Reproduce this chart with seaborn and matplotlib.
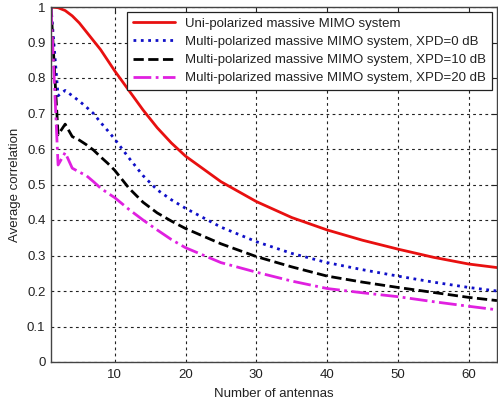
import matplotlib
matplotlib.use("Agg")
import matplotlib.pyplot as plt
import seaborn as sns
import pandas as pd
import numpy as np

antennas = [1, 2, 3, 4, 5, 6, 7, 8, 9, 10, 12, 14, 16, 18, 20, 25, 30, 35, 40, 45, 50, 55, 60, 64]
uni = [1.0, 0.998, 0.99, 0.975, 0.955, 0.93, 0.905, 0.88, 0.85, 0.82, 0.765, 0.71, 0.66, 0.617, 0.58,
       0.508, 0.452, 0.407, 0.372, 0.343, 0.318, 0.295, 0.276, 0.266]
xpd0 = [1.0, 0.75, 0.765, 0.75, 0.735, 0.718, 0.70, 0.675, 0.652, 0.628, 0.575, 0.525, 0.485, 0.457, 0.433,
        0.38, 0.339, 0.306, 0.28, 0.26, 0.242, 0.225, 0.21, 0.20]
xpd10 = [1.0, 0.64, 0.67, 0.635, 0.625, 0.612, 0.597, 0.578, 0.56, 0.54, 0.49, 0.45, 0.42, 0.397, 0.376,
         0.333, 0.297, 0.268, 0.242, 0.225, 0.21, 0.196, 0.182, 0.173]
xpd20 = [1.0, 0.555, 0.59, 0.546, 0.535, 0.525, 0.508, 0.49, 0.476, 0.463, 0.43, 0.40, 0.372, 0.345, 0.322,
         0.28, 0.253, 0.228, 0.207, 0.195, 0.184, 0.17, 0.157, 0.147]

labels = ["Uni-polarized massive MIMO system",
          "Multi-polarized massive MIMO system, XPD=0 dB",
          "Multi-polarized massive MIMO system, XPD=10 dB",
          "Multi-polarized massive MIMO system, XPD=20 dB"]
colors = ["#e81010", "#1010c8", "#000000", "#e020e0"]
styles = ["-", ":", "--", "-."]
series = [uni, xpd0, xpd10, xpd20]

xticks = [10, 20, 30, 40, 50, 60]
yticks = [0, 0.1, 0.2, 0.3, 0.4, 0.5, 0.6, 0.7, 0.8, 0.9, 1]
ytick_labels = ["0", "0.1", "0.2", "0.3", "0.4", "0.5", "0.6", "0.7", "0.8", "0.9", "1"]

sns.set_style("white")
plt.rcParams['font.family'] = ['Liberation Sans', 'DejaVu Sans']

fig = plt.figure(figsize=(4.98, 4.05), dpi=100)
ax = fig.add_axes([51/498, 1 - 362/405, 1 - 51/498 - 0.002, (362 - 7)/405])

for lab, vals, c, ls in zip(labels, series, colors, styles):
    df = pd.DataFrame({"Number of antennas": antennas, "Average correlation": vals})
    sns.lineplot(data=df, x="Number of antennas", y="Average correlation", ax=ax,
                 color=c, linestyle=ls, linewidth=2, label=lab)

ax.set_xlim(1, 64)
ax.set_ylim(0, 1)
ax.set_xticks(xticks)
ax.set_yticks(yticks)
ax.set_yticklabels(ytick_labels)
ax.grid(True, linestyle=(0, (2.5, 3)), color="#222222", linewidth=0.8)
ax.tick_params(direction="in", length=4, top=True, right=True, labelsize=9.5,
               colors="#222222", labelcolor="#222222", pad=4)
ax.tick_params(axis="x", pad=5)
for s in ax.spines.values():
    s.set_color("#444444")
    s.set_linewidth(1.0)
ax.set_xlabel("Number of antennas", fontsize=9.5, color="#222222", labelpad=5)
ax.set_ylabel("Average correlation", fontsize=9.5, color="#222222", labelpad=4)

leg = ax.legend(loc="upper right", fontsize=9.5, frameon=True, fancybox=False,
                edgecolor="#222222", handlelength=3.2, labelspacing=0.45,
                borderaxespad=0.4, framealpha=1)
leg.get_frame().set_linewidth(0.9)
for t in leg.get_texts():
    t.set_color("#222222")

fig.savefig("out.png", dpi=100)
